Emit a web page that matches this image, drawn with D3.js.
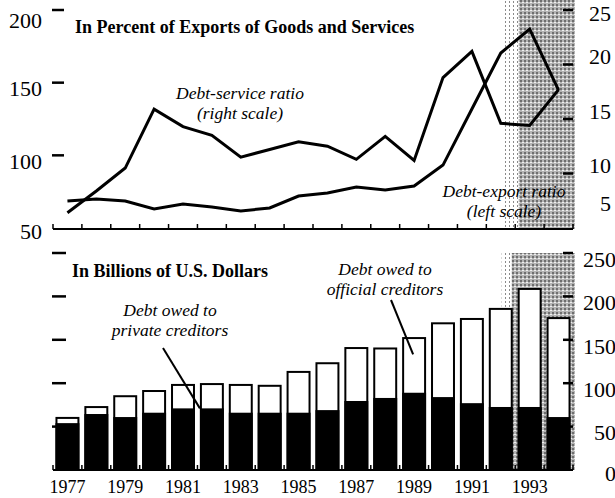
<!DOCTYPE html>
<html>
<head>
<meta charset="utf-8">
<script src="https://cdn.jsdelivr.net/npm/d3@7"></script>
<style>
  html, body { margin: 0; padding: 0; background: #fff; }
  svg { display: block; font-family: "Liberation Serif", "Times New Roman", serif; }
</style>
</head>
<body>
<div id="chart"></div>
<script>
const years = [1977, 1978, 1979, 1980, 1981, 1982, 1983, 1984, 1985, 1986, 1987, 1988, 1989, 1990, 1991, 1992, 1993, 1994];
const yearLabels = [1977, 1979, 1981, 1983, 1985, 1987, 1989, 1991, 1993];

// top panel, percent of exports
const debtExportRatio = [68.6, 70, 68.6, 63.1, 66.5, 64.4, 61.7, 63.8, 72, 74.1, 78.2, 76.1, 78.9, 93.3, 131.9, 170.4, 186.9, 144.9];
const debtServiceRatio = [6.4, 8.4, 10.5, 15.9, 14.3, 13.5, 11.5, 12.2, 12.9, 12.5, 11.3, 13.4, 11.2, 18.8, 21.2, 14.6, 14.4, 17.7];
const leftPctTicks = [50, 100, 150, 200];
const rightPctTicks = [5, 10, 15, 20, 25];

// bottom panel, billions of US$
const privateCreditors = [54, 64.5, 61, 66, 71, 71, 66, 66, 66, 69, 79.5, 83, 89, 84, 77, 72.6, 72.6, 61];
const officialCreditors = [6, 8, 24, 25, 27, 28, 32, 31, 47, 54, 61, 57, 63, 85, 97, 113, 136, 114];
const usdTicks = [0, 50, 100, 150, 200, 250];

const projectionStart = 1993;

const W = 615, H = 498;
const plotLeft = 53, plotRight = 573;

const svg = d3.select("#chart").append("svg")
  .attr("width", W)
  .attr("height", H);

// halftone-ish fills for the projection period
const defs = svg.append("defs");
const dense = defs.append("pattern").attr("id", "shade")
  .attr("width", 4).attr("height", 4).attr("patternUnits", "userSpaceOnUse");
dense.append("rect").attr("width", 4).attr("height", 4).attr("fill", "#b4b4b4");
dense.append("rect").attr("width", 2).attr("height", 2).attr("fill", "#6e6e6e");
dense.append("rect").attr("x", 2).attr("y", 2).attr("width", 2).attr("height", 1).attr("fill", "#f0f0f0");
const light = defs.append("pattern").attr("id", "shadeLight")
  .attr("width", 4).attr("height", 4).attr("patternUnits", "userSpaceOnUse");
light.append("rect").attr("width", 4).attr("height", 4).attr("fill", "#fff");
light.append("rect").attr("x", 1).attr("y", 1).attr("width", 1).attr("height", 2).attr("fill", "#8a8a8a");

const x = d3.scaleBand()
  .domain(years)
  .range([plotLeft, plotRight])
  .paddingInner(0.24)
  .paddingOuter(0.12);
const bw = x.bandwidth();
const step = x.step();
const cx = (yr) => x(yr) + bw / 2;
const boundaries = years.map((yr) => x(yr) - step * 0.12).concat([plotRight]);

const yLeft = d3.scaleLinear().domain([50, 200]).range([228, 10]);
const yRight = d3.scaleLinear().domain([5, 25]).range([228, 10]);
const yUsd = d3.scaleLinear().domain([0, 250]).range([470, 253]);

function shade(g, y0, y1, lightW, denseOff) {
  const x0 = x(projectionStart);
  g.append("rect")
    .attr("x", x0 - lightW).attr("y", y0)
    .attr("width", lightW - denseOff).attr("height", y1 - y0)
    .attr("fill", "url(#shadeLight)");
  g.append("rect")
    .attr("x", x0 - denseOff).attr("y", y0)
    .attr("width", plotRight + 2 - (x0 - denseOff)).attr("height", y1 - y0)
    .attr("fill", "url(#shade)");
}

function baseline(g, y) {
  g.append("line")
    .attr("x1", plotLeft).attr("x2", plotRight)
    .attr("y1", y).attr("y2", y)
    .attr("stroke", "#000").attr("stroke-width", 2);
  g.append("g").selectAll("line")
    .data(boundaries)
    .join("line")
    .attr("x1", (d) => d).attr("x2", (d) => d)
    .attr("y1", y).attr("y2", y - 5)
    .attr("stroke", "#000").attr("stroke-width", 1.5);
}

function sideTicks(g, ticks, scale, x1, x2) {
  g.append("g").selectAll("line")
    .data(ticks)
    .join("line")
    .attr("x1", x1).attr("x2", x2)
    .attr("y1", (d) => scale(d)).attr("y2", (d) => scale(d))
    .attr("stroke", "#000").attr("stroke-width", 2.5);
}

function labels(g, ticks, posFn, xPos, size) {
  g.append("g").selectAll("text")
    .data(ticks)
    .join("text")
    .attr("x", xPos)
    .attr("y", posFn)
    .attr("dy", "0.35em")
    .attr("text-anchor", "end")
    .attr("font-size", size)
    .text((d) => d);
}

function note(g, lines, xc, y0, gap) {
  g.append("text")
    .attr("font-style", "italic")
    .attr("font-size", 17.5)
    .attr("text-anchor", "middle")
    .selectAll("tspan")
    .data(lines)
    .join("tspan")
    .attr("x", xc)
    .attr("y", (d, i) => y0 + i * gap)
    .text((d) => d);
}

// ---------- top panel ----------
const topPanel = svg.append("g");
shade(topPanel, 0, 229, 15, 0);
baseline(topPanel, 229);
sideTicks(topPanel, leftPctTicks.filter((d) => d > 50), yLeft, 52, 64);
sideTicks(topPanel, rightPctTicks.filter((d) => d > 5), yRight, 563, 573);

labels(topPanel, leftPctTicks, (d) => Math.min(Math.max(yLeft(d) + 6, 20), 231), 42, 22);
labels(topPanel, rightPctTicks, (d) => Math.min(Math.max(yRight(d) - 8, 13), 203), 611, 22);

const lineLeft = d3.line().x((d, i) => cx(years[i])).y((d) => yLeft(d));
const lineRight = d3.line().x((d, i) => cx(years[i])).y((d) => yRight(d));

topPanel.append("path")
  .attr("d", lineLeft(debtExportRatio))
  .attr("fill", "none").attr("stroke", "#000").attr("stroke-width", 3)
  .attr("stroke-linejoin", "miter");
topPanel.append("path")
  .attr("d", lineRight(debtServiceRatio))
  .attr("fill", "none").attr("stroke", "#000").attr("stroke-width", 3)
  .attr("stroke-linejoin", "miter");

topPanel.append("text")
  .attr("x", 75).attr("y", 33)
  .attr("font-weight", "bold").attr("font-size", 18)
  .text("In Percent of Exports of Goods and Services");

note(topPanel, ["Debt-service ratio", "(right scale)"], 240, 99, 20);
note(topPanel, ["Debt-export ratio", "(left scale)"], 504, 197, 20);

// ---------- bottom panel ----------
const bottomPanel = svg.append("g");
shade(bottomPanel, yUsd(250), 470, 17, 7);

const bars = bottomPanel.append("g").selectAll("g")
  .data(years)
  .join("g");
bars.append("rect")
  .attr("x", (d) => x(d))
  .attr("y", (d, i) => yUsd(privateCreditors[i] + officialCreditors[i]))
  .attr("width", bw)
  .attr("height", (d, i) => yUsd(0) - yUsd(privateCreditors[i] + officialCreditors[i]))
  .attr("fill", "#fff").attr("stroke", "#000").attr("stroke-width", 2);
bars.append("rect")
  .attr("x", (d) => x(d) - 1)
  .attr("y", (d, i) => yUsd(privateCreditors[i]))
  .attr("width", bw + 2)
  .attr("height", (d, i) => yUsd(0) - yUsd(privateCreditors[i]))
  .attr("fill", "#000");

baseline(bottomPanel, 470);
sideTicks(bottomPanel, usdTicks.filter((d) => d > 0), yUsd, 52, 66);
sideTicks(bottomPanel, usdTicks.filter((d) => d > 0), yUsd, 563, 573);
labels(bottomPanel, usdTicks, (d) => Math.min(yUsd(d) + 6, 473), 616, 22);

bottomPanel.append("g").selectAll("text")
  .data(yearLabels)
  .join("text")
  .attr("x", (d) => cx(d))
  .attr("y", 493)
  .attr("text-anchor", "middle")
  .attr("font-size", 18)
  .text((d) => d);

bottomPanel.append("text")
  .attr("x", 72).attr("y", 277)
  .attr("font-weight", "bold").attr("font-size", 18)
  .text("In Billions of U.S. Dollars");

note(bottomPanel, ["Debt owed to", "private creditors"], 170, 316, 20);
note(bottomPanel, ["Debt owed to", "official creditors"], 385, 275, 20);

// leader lines
bottomPanel.append("line")
  .attr("x1", 163).attr("y1", 348)
  .attr("x2", cx(1982) - 12).attr("y2", yUsd(privateCreditors[5]))
  .attr("stroke", "#000").attr("stroke-width", 2);
bottomPanel.append("line")
  .attr("x1", 391).attr("y1", 300)
  .attr("x2", cx(1989) - 1).attr("y2", yUsd(privateCreditors[12] + officialCreditors[12] * 0.7))
  .attr("stroke", "#000").attr("stroke-width", 2);
</script>
</body>
</html>
